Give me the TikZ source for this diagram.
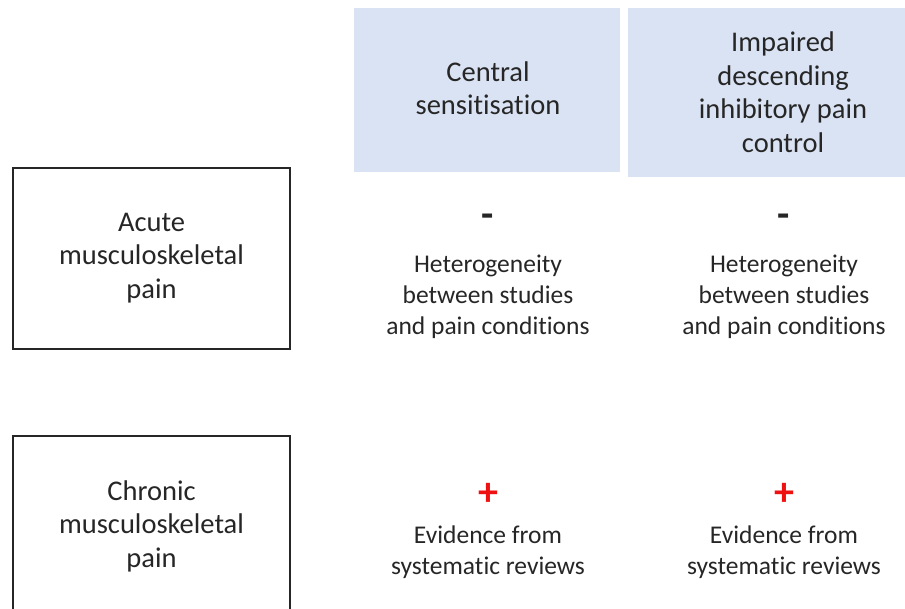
\documentclass[tikz,border=0pt]{standalone}
\usepackage{fontspec}
\setmainfont[RawFeature={-liga;-clig;-dlig}]{Carlito}
\definecolor{headblue}{HTML}{DAE3F3}
\definecolor{txt}{HTML}{262626}
\definecolor{plusred}{HTML}{EE1111}
\tikzset{
  head/.style={fill=headblue, draw=none},
  rowbox/.style={draw=txt, line width=1.4pt, fill=white},
  bigtxt/.style={text=txt, align=center, inner sep=0pt, font=\fontsize{28.5}{33.5}\selectfont},
  smalltxt/.style={text=txt, align=center, inner sep=0pt, font=\fontsize{25.5}{31}\selectfont},
  minusmark/.style={text=txt, inner sep=0pt, font=\fontsize{40}{40}\selectfont\bfseries},
  plusmark/.style={text=plusred, inner sep=0pt, font=\fontsize{40}{40}\selectfont\bfseries}
}
\begin{document}
\begin{tikzpicture}[x=1pt,y=-1pt]
\useasboundingbox (0,0) rectangle (905,609);
\clip (0,0) rectangle (905,609);
% column headers
\fill[head] (354,8) rectangle (620,172);
\fill[head] (628,8) rectangle (940,177);
\node[bigtxt] (hcs) at (488,88) {Central\\sensitisation};
\node[bigtxt] (hid) at (783,92) {Impaired\\descending\\inhibitory pain\\control};
% row boxes
\draw[rowbox] (13,168) rectangle (290,349);
\node[bigtxt] (racute) at (151.5,258) {Acute\\musculoskeletal\\pain};
\draw[rowbox] (13,436) rectangle (290,618);
\node[bigtxt] (rchronic) at (151.5,526) {Chronic\\musculoskeletal\\pain};
% acute row cells
\node[minusmark] (m1) at (488,221) {-};
\node[minusmark] (m2) at (784,221) {-};
\node[smalltxt] (t1) at (488,297) {Heterogeneity\\between studies\\and pain conditions};
\node[smalltxt] (t2) at (784,297) {Heterogeneity\\between studies\\and pain conditions};
% chronic row cells
\node[plusmark] (p1) at (488,494) {+};
\node[plusmark] (p2) at (784,494) {+};
\node[smalltxt] (e1) at (488,552) {Evidence from\\systematic reviews};
\node[smalltxt] (e2) at (784,552) {Evidence from\\systematic reviews};
\end{tikzpicture}
\end{document}
